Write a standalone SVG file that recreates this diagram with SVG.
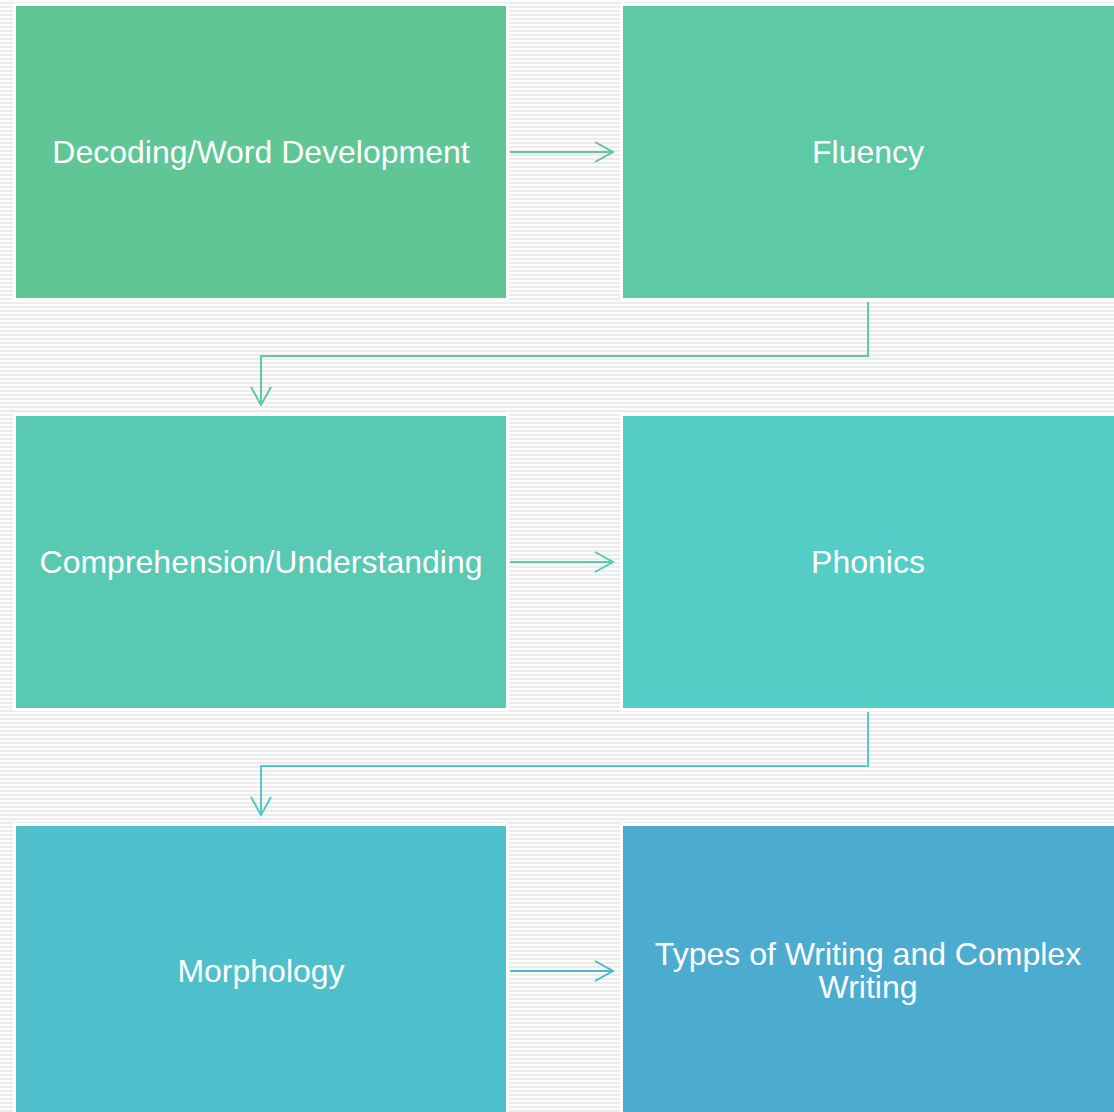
<svg xmlns="http://www.w3.org/2000/svg" width="1114" height="1112" viewBox="0 0 1114 1112">
<defs>
<pattern id="stripes" width="8" height="4" patternUnits="userSpaceOnUse">
<rect width="8" height="4" fill="#fbfbfb"/>
<rect y="2" width="8" height="2" fill="#ececec"/>
</pattern>
<marker id="m1" viewBox="0 0 22 22" refX="20" refY="11" markerWidth="22" markerHeight="22" markerUnits="userSpaceOnUse" orient="auto">
<path d="M2,1 L20,11 L2,21" fill="none" stroke="context-stroke" stroke-width="2"/>
</marker>
<style>
.box{stroke:#ffffff;stroke-width:3}
.lbl{font-family:"Liberation Sans",Arial,sans-serif;font-size:32px;fill:#ffffff;text-anchor:middle}
.conn{fill:none;stroke-width:2}
</style>
</defs>
<rect width="1114" height="1112" fill="url(#stripes)"/>
<g id="connectors">
<path class="conn" d="M510,152 H613" stroke="#61c695" marker-end="url(#m1)"/>
<path class="conn" d="M868,302 V356 H261 V405" stroke="#5ccaa7" marker-end="url(#m1)"/>
<path class="conn" d="M510,562 H613" stroke="#57cbb8" marker-end="url(#m1)"/>
<path class="conn" d="M868,712 V766 H261 V815" stroke="#53c8c8" marker-end="url(#m1)"/>
<path class="conn" d="M510,971 H613" stroke="#4eb5cd" marker-end="url(#m1)"/>
</g>
<g id="n1"><rect class="box" x="14.5" y="4.5" width="493" height="295" fill="#61c695"/><text class="lbl" x="261" y="163">Decoding/Word Development</text></g>
<g id="n2"><rect class="box" x="621.5" y="4.5" width="495" height="295" fill="#5dc9a5"/><text class="lbl" x="868" y="163">Fluency</text></g>
<g id="n3"><rect class="box" x="14.5" y="414.5" width="493" height="295" fill="#58c9b2"/><text class="lbl" x="261" y="573">Comprehension/Understanding</text></g>
<g id="n4"><rect class="box" x="621.5" y="414.5" width="495" height="295" fill="#55cdc7"/><text class="lbl" x="868" y="573">Phonics</text></g>
<g id="n5"><rect class="box" x="14.5" y="824.5" width="493" height="295" fill="#50bfcc"/><text class="lbl" x="261" y="982">Morphology</text></g>
<g id="n6"><rect class="box" x="621.5" y="824.5" width="495" height="295" fill="#4bacd0"/><text class="lbl" x="868" y="965">Types of Writing and Complex</text><text class="lbl" x="868" y="998">Writing</text></g>
</svg>
